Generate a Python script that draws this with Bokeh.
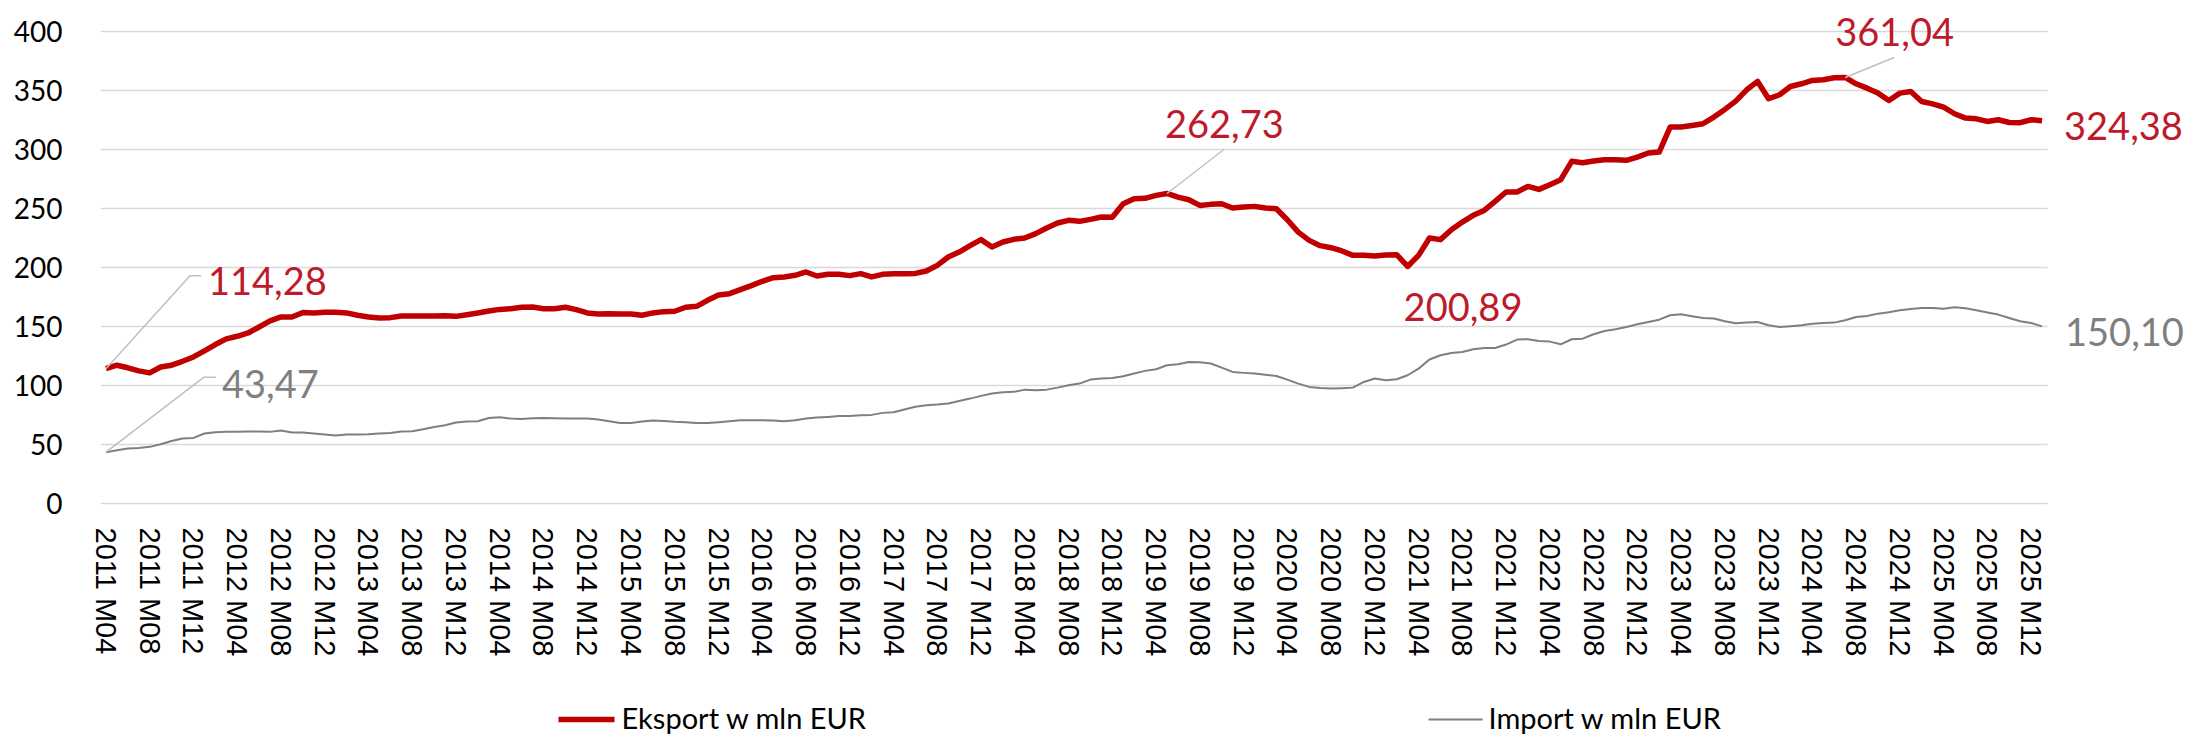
from bokeh.plotting import figure
from bokeh.layouts import column
from bokeh.models import FixedTicker, Label
from bokeh.core.properties import value
from bokeh.embed import file_html
from bokeh.resources import INLINE

# ---------------- data (monthly, 2011 M04 .. 2026 M01) ----------------
export_vals = [
    114.28, 117.2, 115.0, 112.4, 110.7, 115.7, 117.2, 120.5, 124.2, 129.3,
    134.7, 139.5, 141.7, 144.5, 149.6, 154.7, 158.1, 158.1, 161.8, 161.5,
    162.0, 162.0, 161.5, 159.5, 158.1, 157.2, 157.5, 158.9, 159.0, 159.0,
    159.0, 159.2, 158.6, 160.0, 161.5, 163.2, 164.5,
    165.1, 166.3, 166.6, 165.1, 165.1, 166.3, 164.3, 161.5, 160.6, 160.9,
    160.6, 160.6, 159.5, 161.5, 162.6, 162.9, 166.3, 167.1, 172.2, 176.7,
    177.8, 181.2, 184.6, 188.3, 191.4, 192.0, 193.4, 196.2, 192.8, 194.2,
    194.2, 193.1, 194.8, 192.0, 194.2, 194.8, 194.8,
    195.0, 197.0, 201.8, 208.9, 213.1, 218.5, 223.6, 217.4, 221.6, 223.9,
    225.0, 228.7, 233.5, 237.7, 240.0, 239.1, 240.8, 242.8, 242.5, 254.0,
    258.3, 258.6, 261.1, 262.73, 259.7, 257.4, 252.6, 253.5, 254.0, 250.4,
    251.2, 251.8, 250.4, 249.8, 240.5, 230.0, 223.0,
    218.5, 216.8, 214.0, 210.3, 210.3, 209.7, 210.6, 210.9, 200.89, 210.3,
    225.0, 223.6, 232.0, 238.5, 244.2, 248.4, 256.0, 264.0, 264.0, 268.7,
    266.2, 270.2, 274.4, 290.0, 288.8, 290.2, 291.3, 291.3, 290.8, 293.6,
    297.0, 297.8, 319.0, 319.0, 320.4, 321.8, 327.5,
    334.0, 341.0, 350.6, 357.7, 343.0, 346.4, 353.4, 355.7, 358.5, 359.1,
    360.8, 361.04, 355.7, 352.0, 347.8, 341.6, 347.8, 349.2, 340.7, 338.7,
    335.9, 330.3, 326.6, 326.0, 323.8, 325.2, 322.9, 322.7, 325.2, 324.38,
]
import_vals = [
    43.47, 45.2, 46.6, 47.1, 48.0, 50.2, 53.0, 55.0, 55.6, 59.3,
    60.4, 60.7, 60.7, 61.0, 61.0, 60.7, 61.8, 60.1, 60.1, 59.3,
    58.4, 57.6, 58.4, 58.4, 58.7, 59.3, 59.8, 61.0, 61.3, 62.9,
    64.9, 66.3, 68.6, 69.4, 69.7, 72.5, 73.1,
    72.0, 71.7, 72.3, 72.5, 72.3, 72.0, 72.0, 72.0, 71.1, 69.7,
    68.3, 68.3, 69.4, 70.3, 70.0, 69.2, 68.9, 68.3, 68.3, 68.9,
    69.7, 70.6, 70.6, 70.6, 70.3, 69.7, 70.6, 72.0, 72.8, 73.4,
    74.2, 74.2, 74.8, 75.1, 76.8, 77.3, 79.6,
    82.0, 83.3, 83.8, 84.7, 86.9, 88.9, 91.2, 93.2, 94.3, 94.6,
    96.5, 96.0, 96.5, 98.2, 100.2, 101.6, 105.0, 105.9, 106.4, 107.8,
    110.1, 112.4, 113.8, 117.2, 118.0, 120.0, 119.7, 118.6, 115.2, 111.5,
    110.7, 110.1, 109.2, 108.1, 105.0, 101.6, 98.8,
    97.8, 97.4, 97.7, 98.2, 103.0, 105.9, 104.4, 105.3, 108.7, 114.3,
    122.0, 125.6, 127.6, 128.4, 130.7, 131.8, 131.8, 134.7, 138.9, 139.2,
    137.8, 137.2, 134.9, 139.2, 139.7, 143.4, 146.2, 147.6, 149.6, 151.9,
    153.8, 155.8, 159.5, 160.3, 158.6, 157.2, 156.7,
    154.4, 152.7, 153.3, 153.8, 151.0, 149.6, 150.2, 151.0, 152.4, 153.0,
    153.3, 155.3, 158.1, 158.9, 160.9, 162.0, 163.7, 164.9, 165.7, 165.7,
    165.1, 166.3, 165.4, 163.7, 161.8, 160.1, 157.2, 154.4, 153.0, 150.10,
]
tick_labels = [
    "2011 M04", "2011 M08", "2011 M12", "2012 M04", "2012 M08", "2012 M12",
    "2013 M04", "2013 M08", "2013 M12", "2014 M04", "2014 M08", "2014 M12",
    "2015 M04", "2015 M08", "2015 M12", "2016 M04", "2016 M08", "2016 M12",
    "2017 M04", "2017 M08", "2017 M12", "2018 M04", "2018 M08", "2018 M12",
    "2019 M04", "2019 M08", "2019 M12", "2020 M04", "2020 M08", "2020 M12",
    "2021 M04", "2021 M08", "2021 M12", "2022 M04", "2022 M08", "2022 M12",
    "2023 M04", "2023 M08", "2023 M12", "2024 M04", "2024 M08", "2024 M12",
    "2025 M04", "2025 M08", "2025 M12",
]
y_ticks = [0, 50, 100, 150, 200, 250, 300, 350, 400]
series_names = ["Eksport w mln EUR", "Import w mln EUR"]
export_labelled = [0, 97, 119, 159, 177]   # indices of labelled points
import_labelled = [0, 177]

# ---------------- layout / style ----------------
N = len(export_vals)
TOTAL_W = 2187
LEFT = 100                 # plot-area left edge (px)
PLOT_W, PLOT_H = 1947, 472  # gridded plot area
TOP_PAD = 31               # room above the 400 line (inside frame, for labels)
BOT_PAD = 2                # frame extends slightly below the 0 line
FW = TOTAL_W - LEFT        # frame spans to the right edge (room for end labels)
FH = PLOT_H + TOP_PAD + BOT_PAD
BOTTOM = 175
LEG_H = 55
YMAX = 400
PXX = PLOT_W / N
PXY = PLOT_H / YMAX

RED = "#C00000"
RED_TXT = "#BE1A2C"
GREY = "#7F7F7F"
LEADER = "#BFBFBF"
GRID = "#D9D9D9"

xs = list(range(N))

p = figure(frame_width=FW, frame_height=FH,
           x_range=(-0.5, -0.5 + FW / PXX),
           y_range=(-BOT_PAD / PXY, YMAX + TOP_PAD / PXY),
           output_backend="svg", toolbar_location=None,
           min_border_left=LEFT, min_border_right=0,
           min_border_top=0, min_border_bottom=BOTTOM)
p.outline_line_color = None
p.background_fill_color = "white"
p.border_fill_color = "white"
p.grid.visible = False

# horizontal gridlines limited to the plot area
p.segment(x0=[-0.5] * len(y_ticks), x1=[N - 0.5] * len(y_ticks),
          y0=y_ticks, y1=y_ticks, line_color=GRID, line_width=1.5)

xa = p.xaxis[0]
xa.ticker = FixedTicker(ticks=list(range(0, N, 4)))
xa.major_label_overrides = {i * 4: t for i, t in enumerate(tick_labels)}
xa.major_label_orientation = "vertical"
xa.axis_line_color = None
xa.major_tick_line_color = None
xa.minor_tick_line_color = None
xa.major_tick_out = 0
xa.major_tick_in = 0
xa.major_label_standoff = 24 - BOT_PAD
xa.major_label_text_font = "Liberation Sans"
xa.major_label_text_font_size = "29px"
xa.major_label_text_color = "#000000"

ya = p.yaxis[0]
ya.ticker = FixedTicker(ticks=y_ticks)
ya.axis_line_color = None
ya.major_tick_line_color = None
ya.minor_tick_line_color = None
ya.major_tick_out = 0
ya.major_tick_in = 0
ya.major_label_standoff = 38
ya.major_label_text_font = "Lato"
ya.major_label_text_font_size = "28px"
ya.major_label_text_color = "#000000"

r_imp = p.line(xs, import_vals, line_color=GREY, line_width=2, line_join="round")
r_exp = p.line(xs, export_vals, line_color=RED, line_width=5.5, line_join="round")


def fmt(v):
    return f"{v:.2f}".replace(".", ",")


def leader(i, v, pts):
    """pts: list of (dx, dy) pixel offsets from the data point (dy up)."""
    lx = [i] + [i + dx / PXX for dx, dy in pts]
    ly = [v] + [v + dy / PXY for dx, dy in pts]
    p.line(lx, ly, line_color=LEADER, line_width=1.5)


BASE_SHIFT = 9.5  # renderer baseline correction


def add_label(i, v, color, dx, dy):
    p.add_layout(Label(x=i, y=v, text=fmt(v), x_offset=dx,
                       y_offset=dy + BASE_SHIFT,
                       text_font="Lato", text_font_size="38px",
                       text_color=color, text_align="left",
                       text_baseline="alphabetic"))


# label styles: (pixel offsets of label baseline-left, leader path)
exp_style = {
    0: ((102, 78), [(84, 93), (95, 93)]),
    97: ((-2, 60), [(57, 44)]),
    119: ((-4, -50), None),
    159: ((-10, 36), [(49, 20)]),
    177: ((22, -15), None),
}
imp_style = {
    0: ((116, 59), [(98, 75), (110, 75)]),
    177: ((23, -15), None),
}
for i in export_labelled:
    (dx, dy), path = exp_style[i]
    if path:
        leader(i, export_vals[i], path)
    add_label(i, export_vals[i], RED_TXT, dx, dy)
for i in import_labelled:
    (dx, dy), path = imp_style[i]
    if path:
        leader(i, import_vals[i], path)
    add_label(i, import_vals[i], GREY, dx, dy)

# ---------------- legend strip (x in page pixels) ----------------
leg = figure(width=TOTAL_W, height=LEG_H, x_range=(LEFT, TOTAL_W), y_range=(0, LEG_H),
             output_backend="svg", toolbar_location=None,
             min_border_left=LEFT, min_border_right=0, min_border_top=0,
             min_border_bottom=0, x_axis_type=None, y_axis_type=None)
leg.outline_line_color = None
leg.grid.visible = False
leg_items = [
    (series_names[0], RED, 5.5, 558, 614, 621),
    (series_names[1], GREY, 2, 1428, 1482, 1488),
]
for name, col, lw, x0, x1, tx in leg_items:
    leg.line([x0, x1], [16, 16], line_color=col, line_width=lw)
    leg.text(x=[tx], y=[18], text=[name], text_font=value("Lato"),
             text_font_size="29px", text_color="#000000",
             text_align="left", text_baseline="alphabetic")

open("out.html", "w").write(file_html(column(p, leg), INLINE))
